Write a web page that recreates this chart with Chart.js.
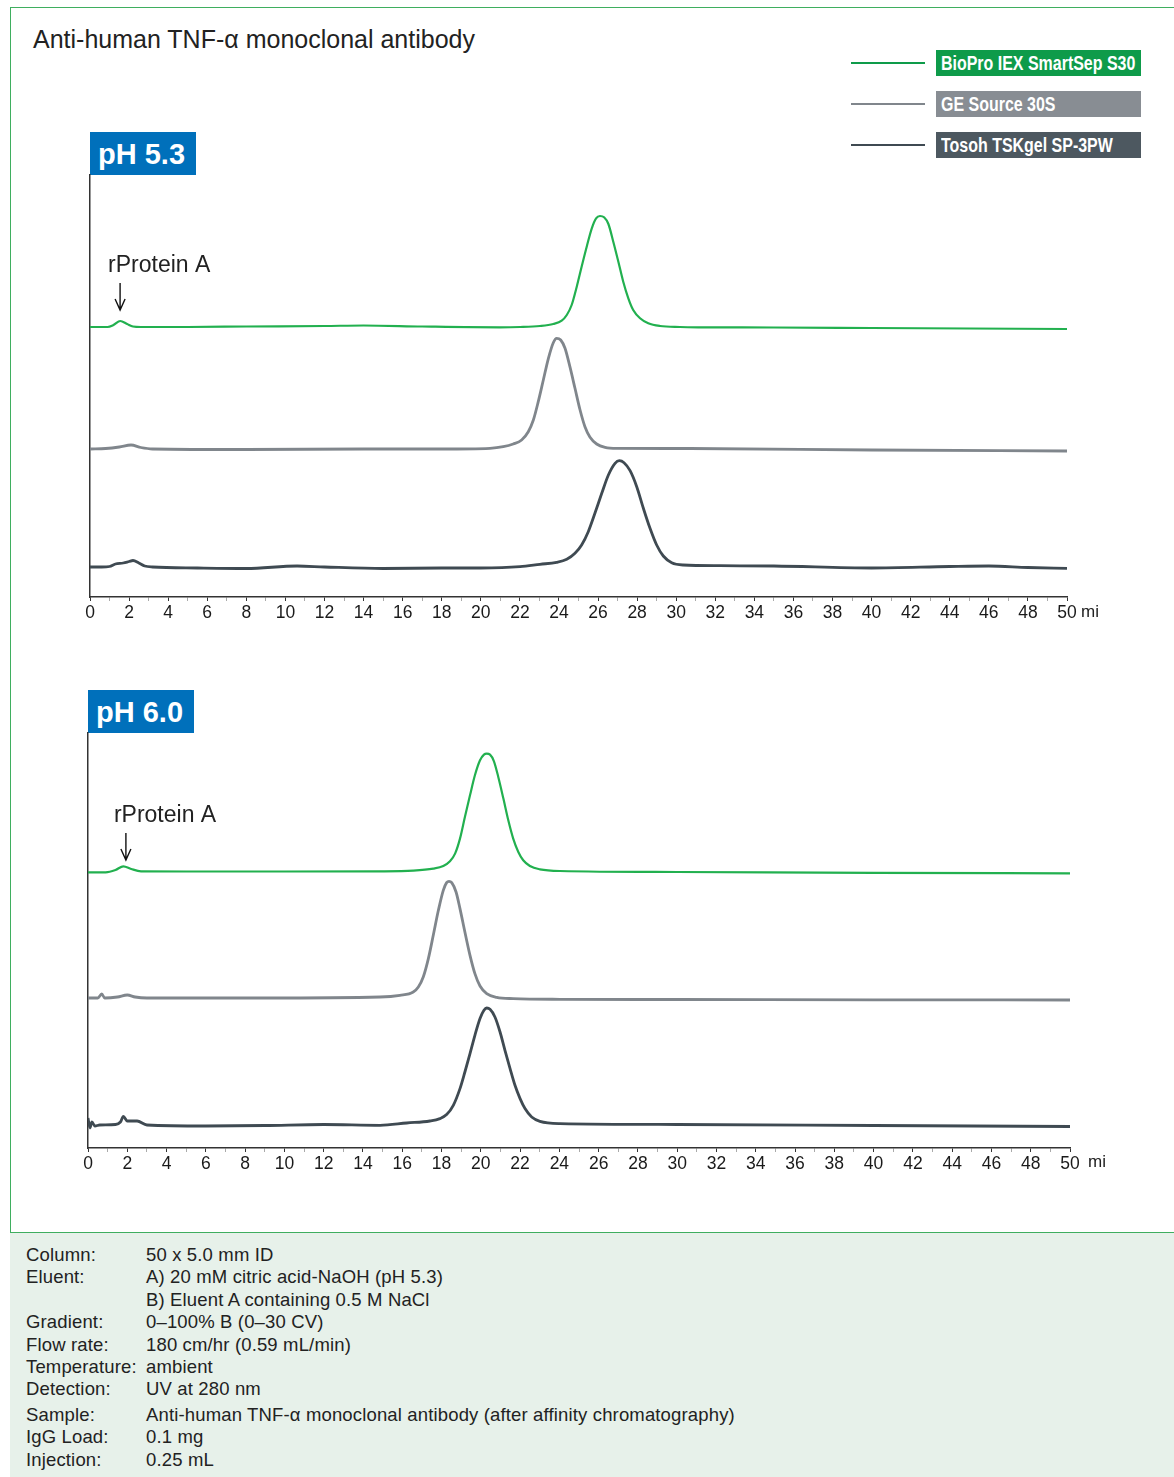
<!DOCTYPE html>
<html>
<head>
<meta charset="utf-8">
<script src="https://cdn.jsdelivr.net/npm/chart.js@4"></script>
<style>
body{margin:0;background:#fff;font-family:"Liberation Sans",Arial,sans-serif;color:#222}
#page{position:relative;width:1174px;height:1477px;overflow:hidden}
.abs{position:absolute}
#frameTop{left:10px;top:7px;width:1164px;height:0;border-top:1.5px solid #3fae5f}
#frameLeft{left:10px;top:7px;width:0;height:1470px;border-left:1.5px solid #3fae5f}
#title{left:33px;top:25px;font-size:25px;line-height:29px;white-space:nowrap}
.legLine{left:851px;width:74px;height:0;border-top:2.5px solid}
.legBox{left:936px;width:205px;height:26px;color:#fff;font-weight:bold;font-size:20px;line-height:26px;padding-left:5px;box-sizing:border-box;white-space:nowrap;overflow:hidden}
.legBox span{display:inline-block;transform-origin:0 50%}
.ph{width:106px;height:43px;background:#0070bb;color:#fff;font-weight:bold;font-size:29px;line-height:44px;padding-left:8px;box-sizing:border-box}
.unit{font-size:17px;color:#222}
#info{left:10px;top:1232px;width:1164px;height:245px;background:#e7f1ea;border-top:1.5px solid #3fae5f;font-size:18.5px;letter-spacing:0.15px}
.row{position:absolute;left:16px;white-space:nowrap;line-height:21px}
.row span{position:absolute;left:120px}
</style>
</head>
<body>
<div id="page">
<div id="frameTop" class="abs"></div>
<div id="frameLeft" class="abs"></div>
<div id="title" class="abs">Anti-human TNF-α monoclonal antibody</div>
<div id="legend"></div>

<div class="abs ph" style="left:90px;top:132px">pH 5.3</div>
<div class="abs ph" style="left:88px;top:690px">pH 6.0</div>

<div class="abs" style="left:60px;top:160px;width:1080px;height:480px"><canvas id="chartTop" width="1080" height="480"></canvas></div>
<div class="abs" style="left:58px;top:718px;width:1085px;height:480px"><canvas id="chartBottom" width="1085" height="480"></canvas></div>
<div class="abs unit" style="left:1081px;top:602px">mi</div>
<div class="abs unit" style="left:1088px;top:1152px">mi</div>

<div id="info" class="abs"></div>
</div>

<script>
// run names and colours
const seriesNames = ["BioPro IEX SmartSep S30", "GE Source 30S", "Tosoh TSKgel SP-3PW"]
const lineColors = ["#22b04f", "#80868c", "#3f4a52"]
const boxColors = ["#0e9b4a", "#888d93", "#4d5860"]

const xTickLabels = [0,2,4,6,8,10,12,14,16,18,20,22,24,26,28,30,32,34,36,38,40,42,44,46,48,50]

// pH 5.3 traces (time in min, signal in mAU, traces stacked as plotted)
const timeTopGreen = [0,0.9,1.2,1.55,1.9,2.2,2.6,5,8,12,14,17,20.98,22.01,23.03,23.71,24.14,24.4,24.65,24.91,25.16,25.42,25.68,25.9,26.1,26.31,26.53,26.78,27.04,27.29,27.55,27.8,28.15,28.57,29.17,30.19,31.22,35,40,45,50]
const sigTopGreen = [270,270,272,276,273,270.5,270,270,270.5,271,271.5,270.5,269.7,270,271,273,276.3,282,292,310.3,330.3,350.3,368.7,378.7,381,379.7,373,355.3,335.3,315.3,298.7,287,278.7,273.7,271,270,269.7,269.5,269,268.5,268]

const timeTopGray = [0,0.8,1.5,2.1,2.6,3.2,8,14,18,20.47,21.15,21.66,22.09,22.43,22.69,22.94,23.2,23.46,23.71,23.88,24.09,24.31,24.56,24.82,25.08,25.33,25.59,25.93,26.36,26.96,30.71,40,50]
const sigTopGray = [148,148.5,150,152,149.5,148,147.5,148,148,148.7,150.3,153,157,165.3,177,195.3,217,238.7,254.3,258.7,257,248.7,230.3,208.7,187,170.3,159.7,153,149.7,148.7,148.5,147,146]

const timeTopDark = [0,0.6,1.0,1.3,1.7,2.0,2.2,2.5,2.8,3.2,5.5,8,10.6,12,15,18,20,22.01,23.03,23.88,24.4,24.82,25.16,25.5,25.84,26.19,26.53,26.87,27.09,27.33,27.64,27.98,28.32,28.66,29.0,29.34,29.77,30.36,32.24,35,40,44,46,48,50]
const sigTopDark = [30,30,30.5,33,34,35.5,36.5,34,31,30,29,28.5,31,30,28.5,29,29,30.3,32.7,34.7,37.7,43.7,52,65.3,83.7,103.7,122,133.7,136.3,134.3,126.3,110.3,88.7,68.7,52,41,34.3,32,31.3,31,29,30.5,31,29.5,28.7]

// pH 6.0 traces
const timeBotGreen = [0,0.9,1.4,1.8,2.2,2.7,5,10,14.87,16.56,17.58,18.09,18.43,18.69,18.94,19.19,19.45,19.7,19.96,20.16,20.3,20.47,20.67,20.89,21.15,21.4,21.65,21.91,22.16,22.5,23.01,24.03,30,40,50]
const sigBotGreen = [275.7,275.7,278,281.7,279,276.7,276.5,276.5,276.7,277.4,279.4,282,286.7,294.4,309.4,331,352.7,372.7,387.7,393.4,394.4,393.4,386.7,371,349.4,327.7,309.4,296,287.7,282,278.7,277,276,275.2,274.7]

const timeBotGray = [0,0.5,0.7,0.85,1.5,2.0,2.4,3,9,14.87,15.88,16.56,16.82,17.07,17.33,17.58,17.84,18.09,18.26,18.38,18.52,18.74,18.94,19.19,19.45,19.7,19.96,20.3,20.81,21.65,24.03,30,40,50]
const sigBotGray = [150,150,154,150,151,153,151,150,150,151,152.7,156,161,171,189.4,212.7,237.7,257.7,265.4,266.7,265.4,256,239.4,216,192.7,174.4,162,154.4,150.7,149.4,148.7,148.5,148.2,148]

const timeBotDark = [0,0.1,0.2,0.35,0.6,1.4,1.65,1.8,2.0,2.5,3.0,6,9,12,14.87,16.23,17.41,17.92,18.26,18.6,18.94,19.19,19.45,19.7,19.96,20.16,20.3,20.47,20.72,20.98,21.23,21.49,21.74,22.0,22.25,22.59,23.01,24.03,30,40,50]
const sigBotDark = [30,20,26,22,23,23.5,26,31.5,27,27,23,22,22.5,23.5,22.7,25,27,29.4,33.4,42.7,59.4,76,94.4,112.7,129.4,137.7,140,138.7,131,116,97.7,79.4,62.7,49.4,39.4,31,26.7,24.4,23.5,22.5,21.5]

// conditions box
const infoLabels = ["Column:","Eluent:","","Gradient:","Flow rate:","Temperature:","Detection:","Sample:","IgG Load:","Injection:"]
const infoValues = ["50 x 5.0 mm ID","A) 20 mM citric acid-NaOH (pH 5.3)","B) Eluent A containing 0.5 M NaCl","0–100% B (0–30 CV)","180 cm/hr (0.59 mL/min)","ambient","UV at 280 nm","Anti-human TNF-α monoclonal antibody (after affinity chromatography)","0.1 mg","0.25 mL"]


// legend
const legend = document.getElementById("legend")
let legSpans = []
seriesNames.forEach((name,i)=>{
  let top = 50 + i*41
  let line = document.createElement("div")
  line.className = "abs legLine"
  line.style.top = (top+12)+"px"
  line.style.borderColor = i==0 ? "#0e9b4a" : lineColors[i]
  legend.appendChild(line)
  let box = document.createElement("div")
  box.className = "abs legBox"
  box.style.top = top+"px"
  box.style.background = boxColors[i]
  let sp = document.createElement("span")
  sp.innerText = name
  box.appendChild(sp)
  legend.appendChild(box)
  legSpans.push(sp)
})
// condensed look: squeeze the bold face to the printed width
const squeeze = 194 / legSpans[0].offsetWidth
legSpans.forEach(sp => sp.style.transform = "scaleX(" + squeeze + ")")

// info rows
const info = document.getElementById("info")
const rowTops = [11,33,56,78,101,123,145,171,193,216]
infoLabels.forEach((lab,i)=>{
  let row = document.createElement("div")
  row.className = "row"
  row.style.top = rowTops[i]+"px"
  row.innerHTML = lab + "<span></span>"
  row.querySelector("span").innerText = infoValues[i]
  info.appendChild(row)
})


function toPoints(t, s){
  return t.map((v,i)=>({x:v, y:s[i]}))
}

// arrow + "rProtein A" label
const arrowPlugin = {
  id:"arrowLabel",
  afterDatasetsDraw(chart, args, opts){
    const ctx = chart.ctx
    const x = chart.scales.x.getPixelForValue(opts.x)
    const yTip = chart.scales.y.getPixelForValue(opts.y)
    const yTop = yTip - 27
    ctx.save()
    ctx.strokeStyle = "#111"
    ctx.lineWidth = 1.4
    ctx.beginPath()
    ctx.moveTo(x, yTop)
    ctx.lineTo(x, yTip)
    ctx.moveTo(x-5, yTip-11)
    ctx.lineTo(x, yTip)
    ctx.lineTo(x+5, yTip-11)
    ctx.stroke()
    ctx.fillStyle = "#222"
    ctx.font = "23px 'Liberation Sans', Arial, sans-serif"
    ctx.textBaseline = "middle"
    ctx.fillText(opts.text, x-12, yTop-17)
    ctx.restore()
  }
}

function makeChart(id, yMax, axisHeight, sets, arrow){
  const ctx = document.getElementById(id)
  return new Chart(ctx,{
    type:"line",
    data:{
      datasets: sets.map((p,i)=>({
        label: seriesNames[i],
        data: p,
        borderColor: lineColors[i],
        borderWidth: i==0 ? 2.2 : 2.8,
        pointRadius: 0,
        cubicInterpolationMode: "monotone",
        fill: false
      }))
    },
    options:{
      responsive:false,
      animation:false,
      events:[],
      layout:{padding:{left:30,top:15,right:73,bottom:0}},
      plugins:{
        legend:{display:false},
        tooltip:{enabled:false},
        arrowLabel: arrow
      },
      scales:{
        x:{
          type:"linear",
          min:0, max:50,
          afterFit: s => { s.height = axisHeight },
          border:{display:true,color:"#333",width:1.5},
          grid:{
            drawOnChartArea:false,
            drawTicks:true,
            tickLength:4,
            color: c => (c.tick && c.tick.value % 2 === 0) ? "#333" : "#aaa",
            lineWidth:1
          },
          ticks:{
            stepSize:1,
            autoSkip:false,
            maxRotation:0,
            padding:2,
            color:"#1a1a1a",
            font:{family:"'Liberation Sans', Arial, sans-serif", size:17.5},
            callback: v => xTickLabels.includes(v) ? String(v) : ""
          }
        },
        y:{
          min:0, max:yMax,
          afterFit: s => { s.width = 0 },
          border:{display:true,color:"#333",width:1.5},
          grid:{display:false},
          ticks:{display:false}
        }
      }
    },
    plugins:[arrowPlugin]
  })
}

makeChart("chartTop", 422, 43, [
  toPoints(timeTopGreen, sigTopGreen),
  toPoints(timeTopGray, sigTopGray),
  toPoints(timeTopDark, sigTopDark)
], {x:1.54, y:287, text:"rProtein A"})

makeChart("chartBottom", 415, 50, [
  toPoints(timeBotGreen, sigBotGreen),
  toPoints(timeBotGray, sigBotGray),
  toPoints(timeBotDark, sigBotDark)
], {x:1.93, y:288, text:"rProtein A"})
</script>
</body>
</html>
